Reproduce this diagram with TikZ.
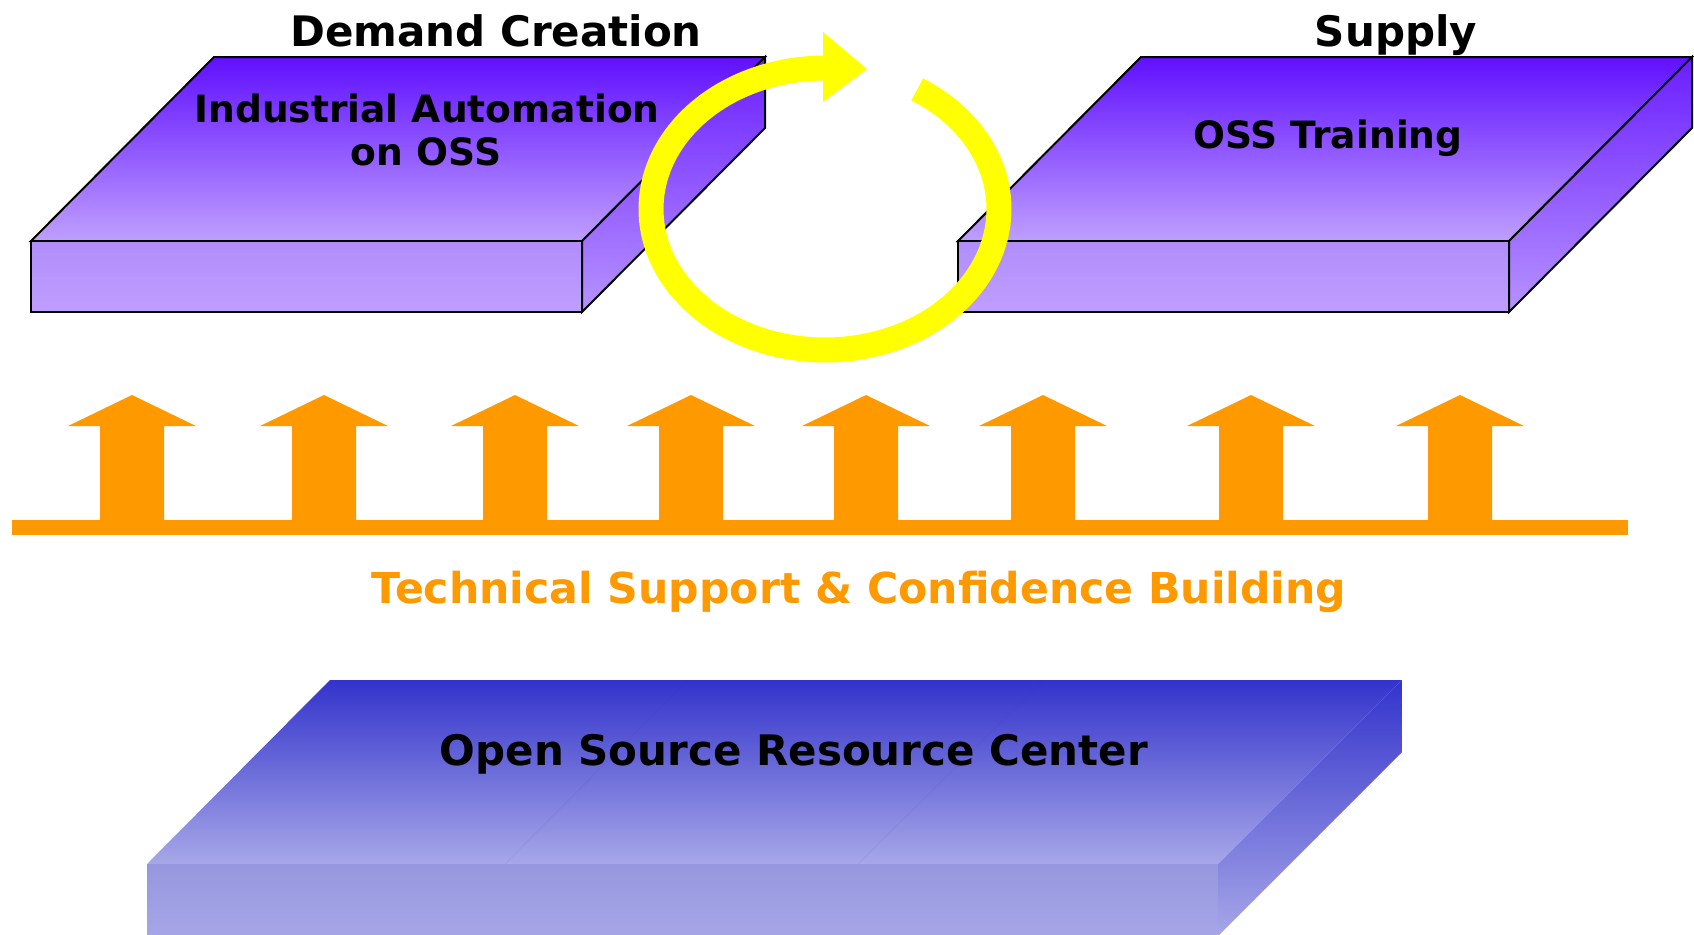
\documentclass[tikz,border=0pt]{standalone}
\usepackage{fontspec}
\setmainfont{DejaVu Sans}
\definecolor{vtop}{HTML}{6010FF}
\definecolor{vbot}{HTML}{BF9FFF}
\definecolor{vfrontT}{HTML}{B08DFA}
\definecolor{vfrontB}{HTML}{BF9EFF}
\definecolor{vsideT}{HTML}{6A1EFF}
\definecolor{vsideB}{HTML}{B793FF}
\definecolor{btop}{HTML}{3333CC}
\definecolor{bbot}{HTML}{A7A7E8}
\definecolor{bfrontT}{HTML}{9797DF}
\definecolor{bfrontB}{HTML}{A5A5E7}
\definecolor{sorange}{HTML}{FF9900}
\definecolor{ringyellow}{HTML}{FFFF00}
\begin{document}
\begin{tikzpicture}[x=0.5pt,y=-0.5pt,
  edge/.style={draw=black,line width=1pt,line join=miter},
  lbl/.style={font=\bfseries\fontsize{18.8}{22}\selectfont,anchor=base,inner sep=0pt},
  hdr/.style={font=\bfseries\fontsize{21}{25}\selectfont,anchor=base,inner sep=0pt},
  ring/.style={draw=ringyellow,line width=12.5pt},
  uparrow/.style={fill=sorange}]
\useasboundingbox (0,0) rectangle (1694,934);

% ---------- left block ----------
\shadedraw[edge,top color=vtop,bottom color=vbot] (214,57) -- (765,57) -- (582,241) -- (31,241) -- cycle;
\shadedraw[edge,top color=vfrontT,bottom color=vfrontB] (31,241) rectangle (582,312);
\shadedraw[edge,top color=vsideT,bottom color=vsideB] (582,241) -- (765,57) -- (765,128) -- (582,312) -- cycle;

% ---------- right block ----------
\shadedraw[edge,top color=vtop,bottom color=vbot] (1141,57) -- (1692,57) -- (1509,241) -- (958,241) -- cycle;
\shadedraw[edge,top color=vfrontT,bottom color=vfrontB] (958,241) rectangle (1509,312);
\shadedraw[edge,top color=vsideT,bottom color=vsideB] (1509,241) -- (1692,57) -- (1692,128) -- (1509,312) -- cycle;

% ---------- bottom block ----------
\shade[top color=btop,bottom color=bbot] (330,680) -- (1402,680) -- (1218,864) -- (147,864) -- cycle;
\shade[top color=bfrontT,bottom color=bfrontB] (147,864) rectangle (1218,936);
\shade[top color=btop,bottom color=bbot] (1218,864) -- (1402,680) -- (1402,752) -- (1218,936) -- cycle;
\draw[btop,opacity=0.07,line width=0.5pt] (688,680) -- (505,864) (1044,680) -- (858,864);

% ---------- headers and labels ----------
\node[hdr] (demand) at (496,46) {Demand Creation};
\node[hdr] (supply) at (1396,46) {Supply};
\node[lbl] (ia1) at (427,122) {Industrial Automation};
\node[lbl] (ia2) at (426,165) {on OSS};
\node[lbl] (osst) at (1328,148) {OSS Training};
\node[hdr,font=\bfseries\fontsize{21.3}{25}\selectfont,text=sorange] (tech) at (859,603) {Technical Support \& Confidence Building};
\node[hdr] (osrc) at (794,765) {Open Source Resource Center};

% ---------- orange arrows ----------
\fill[uparrow] (12,520) rectangle (1628,535);
\foreach \cx in {132,324,515,691,866,1043,1251,1460}{
  \fill[uparrow] (\cx-32,521) -- (\cx-32,426) -- (\cx-64,426) -- (\cx,395)
     -- (\cx+64,426) -- (\cx+32,426) -- (\cx+32,521) -- cycle;
}

% ---------- yellow cycle arrow ----------
\draw[ring] plot[domain=-58:270,samples=150] ({825+174*cos(\x)},{209+141*sin(\x)});
\coordinate (headback) at (823,68);
\fill[ringyellow] (823,32) -- (867,69) -- (823,102) -- cycle;
\end{tikzpicture}
\end{document}
